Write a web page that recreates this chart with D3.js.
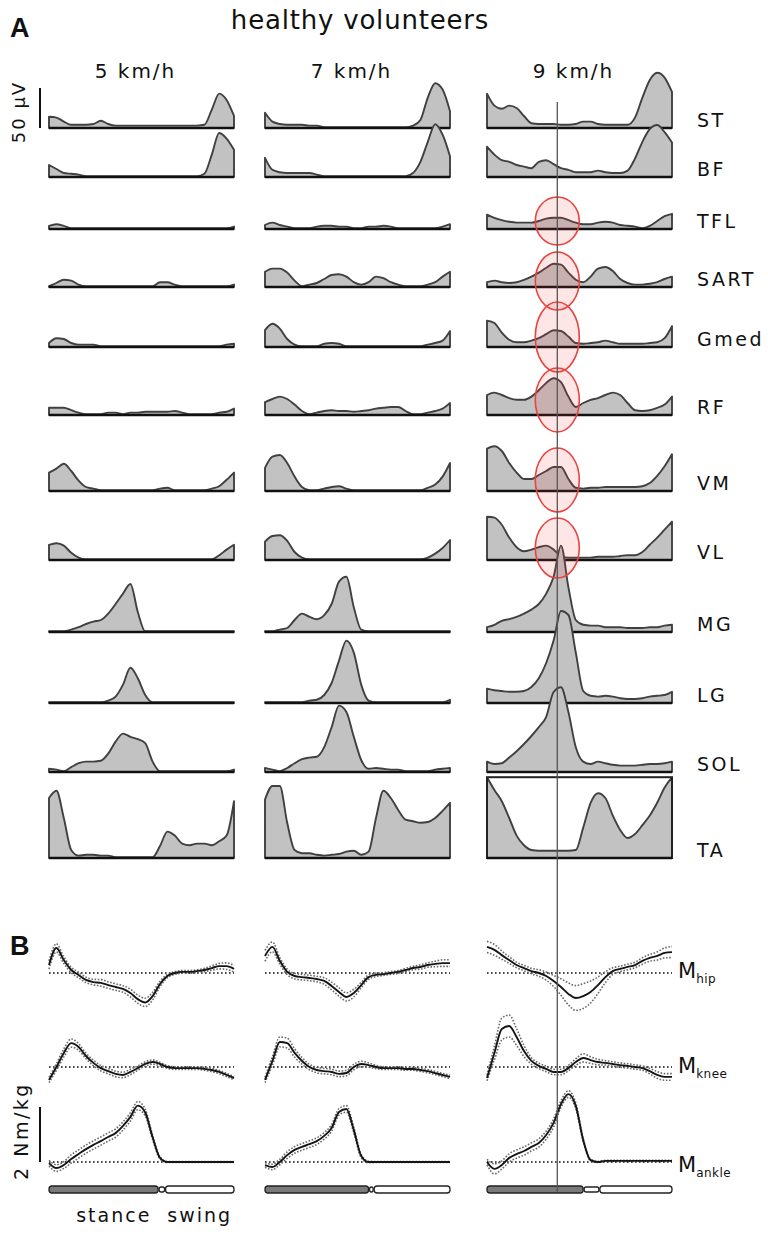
<!DOCTYPE html>
<html>
<head>
<meta charset="utf-8">
<script src="https://cdnjs.cloudflare.com/ajax/libs/d3/7.8.5/d3.min.js"></script>
<style>
    body { margin: 0; background: #fff; }
    svg text { font-family: "DejaVu Sans", Verdana, sans-serif; fill: #111; }
    .panel-letter { font-family: "Liberation Sans", Arial, sans-serif; font-weight: bold; font-size: 27px; }
    .emg-area { fill: #c2c2c2; stroke: #404040; stroke-width: 1.9px; stroke-linejoin: round; }
    .emg-base { stroke: #111; stroke-width: 2.6px; }
    .emg-frame { fill: none; stroke: #222; stroke-width: 2px; }
    .zero { stroke: #111; stroke-width: 1.6px; stroke-dasharray: 1.6,2.4; }
    .sd { fill: none; stroke: #6a6a6a; stroke-width: 1.6px; stroke-dasharray: 1.6,1.6; }
    .mean { fill: none; stroke: #151515; stroke-width: 1.9px; }
    .scalebar { stroke: #111; stroke-width: 2px; }
    .marker { stroke: #555; stroke-width: 1.3px; }
    .hl { fill: rgba(255, 60, 60, 0.13); stroke: #e8443f; stroke-width: 1.6px; }
    .phase { stroke: #222; stroke-width: 1.3px; }
</style>
</head>
<body>
<svg class="target" width="768" height="1236"></svg>
<script>

    // ---- data ----
    let speeds = ["5 km/h", "7 km/h", "9 km/h"];
    let muscles = ["ST", "BF", "TFL", "SART", "Gmed", "RF", "VM", "VL", "MG", "LG", "SOL", "TA"];
    let phase = d3.range(0, 101, 4);   // % of gait cycle

    // EMG envelopes in µV, one list per speed
    let ST = [
        [14,13,8,4,4,4,5,9,5,3,3,3,3,3,3,3,3,3,3,3,3,4,23,43,35,15],
        [19,8,5,4,4,4,3,3,1,1,1,1,1,1,1,1,1,1,1,1,3,10,38,56,48,21],
        [43,28,24,28,25,15,6,5,5,5,4,4,5,8,8,5,4,4,4,4,13,38,60,69,63,45]
    ];
    let BF = [
        [15,10,5,4,3,1,1,1,1,1,1,1,1,1,1,1,1,1,1,1,1,4,28,55,48,34],
        [24,9,6,5,5,5,5,3,1,1,1,1,1,1,1,1,1,1,1,1,5,19,44,66,53,26],
        [38,28,21,19,15,13,11,19,21,16,11,9,6,6,6,8,6,5,5,8,23,44,60,65,56,43]
    ];
    let TFL = [
        [4,6,4,1,1,1,1,1,1,1,1,1,1,1,1,1,1,1,1,1,1,1,1,1,1,3],
        [5,8,5,3,1,1,1,3,4,4,3,3,1,1,3,3,4,3,1,1,1,1,1,1,3,6],
        [18,14,11,9,8,8,8,10,13,14,14,11,8,6,6,8,9,8,5,4,3,1,4,10,16,19]
    ];
    let SART = [
        [1,5,9,8,3,1,1,1,1,1,1,1,1,1,1,6,6,3,1,1,1,1,1,1,1,3],
        [19,23,23,18,8,1,3,5,10,15,16,13,6,3,6,13,11,6,3,1,1,1,3,6,13,19],
        [6,8,6,5,6,9,13,18,24,29,28,18,9,6,13,23,25,20,10,5,3,3,4,6,10,13]
    ];
    let Gmed = [
        [5,11,10,5,3,3,3,1,1,1,1,1,1,1,1,1,1,1,1,1,1,1,1,1,3,4],
        [21,29,23,10,3,1,1,1,4,5,4,1,1,1,1,1,1,1,1,1,1,1,3,5,8,20],
        [33,30,18,9,6,6,8,11,16,21,20,13,5,4,5,6,8,6,4,4,4,4,5,6,11,26]
    ];
    let RF = [
        [9,9,9,6,3,1,1,1,3,3,1,3,3,4,4,4,4,5,3,1,1,1,1,3,4,8],
        [16,20,23,20,13,5,1,3,5,6,5,5,4,5,6,8,9,10,10,5,1,1,3,5,8,15],
        [25,28,25,21,19,19,23,31,40,46,41,23,10,15,19,21,25,28,25,15,6,5,6,9,13,23]
    ];
    let VM = [
        [23,28,34,25,13,5,3,1,1,1,1,1,1,1,1,3,4,1,1,1,1,1,3,6,14,23],
        [29,43,45,35,18,5,1,1,3,5,6,3,1,1,1,1,1,1,1,1,1,1,4,8,18,35],
        [53,56,50,35,23,15,15,20,25,30,30,15,4,3,4,4,5,5,5,5,5,6,10,19,31,46]
    ];
    let VL = [
        [19,21,18,9,3,1,1,1,1,1,1,1,1,1,1,1,1,1,1,1,1,1,1,6,13,19],
        [23,30,31,24,10,3,1,1,1,1,1,1,1,1,1,1,1,1,1,1,1,1,3,8,15,25],
        [54,53,44,28,16,11,13,16,18,13,5,3,3,3,3,4,4,4,5,6,6,10,19,28,38,48]
    ];
    let MG = [
        [1,1,1,3,6,10,13,15,23,35,48,60,25,1,1,1,1,1,1,1,1,1,1,1,1,1],
        [1,1,3,5,15,23,19,16,21,35,63,69,31,3,1,1,1,1,1,1,1,1,1,1,1,1],
        [6,9,14,16,19,23,28,35,48,69,108,56,15,9,8,8,6,6,6,5,5,5,6,6,8,9]
    ];
    let LG = [
        [1,1,1,1,1,1,1,1,3,8,23,44,31,10,1,1,1,1,1,1,1,1,1,1,1,1],
        [1,1,1,1,1,1,3,4,10,25,53,78,63,23,3,1,1,1,1,1,1,1,1,1,1,4],
        [18,16,15,14,14,15,20,31,50,78,115,110,63,15,9,8,9,8,6,5,5,6,8,9,10,14]
    ];
    let SOL = [
        [4,3,1,6,11,13,13,14,23,38,48,44,41,36,13,1,1,1,1,1,1,1,1,1,1,3],
        [5,3,1,5,11,16,18,19,31,56,83,75,44,15,4,5,4,3,3,1,1,1,1,3,4,5],
        [13,10,11,18,26,35,45,56,69,100,106,75,31,13,10,13,11,9,8,8,8,9,10,10,11,13]
    ];
    let TA = [
        [75,84,50,10,3,4,4,3,3,1,1,1,1,1,1,15,33,28,18,16,18,18,16,21,28,71],
        [73,90,90,44,10,6,6,4,3,4,5,8,9,4,8,50,84,75,60,48,46,44,45,50,59,69],
        [119,85,71,50,28,16,10,9,9,9,9,9,10,38,69,81,75,53,35,25,30,41,53,69,88,119]
    ];
    let emg = {ST, BF, TFL, SART, Gmed, RF, VM, VL, MG, LG, SOL, TA};

    // TA at 9 km/h runs off its panel (clipped at this value, µV)
    let clippedPanel = {muscle: "TA", speed: 2, limit: 101};

    // joint moments in Nm/kg: mean and SD per speed
    let hipMean = [
        [0.29,0.91,0.47,0.11,-0.07,-0.25,-0.33,-0.36,-0.44,-0.51,-0.58,-0.73,-0.95,-1.07,-0.84,-0.40,-0.11,0,0.04,0.04,0.07,0.11,0.18,0.25,0.25,0.15],
        [0.62,0.95,0.44,0.04,-0.11,-0.15,-0.18,-0.22,-0.29,-0.47,-0.69,-0.87,-0.73,-0.44,-0.15,-0.07,-0.04,0,0.04,0.11,0.18,0.22,0.29,0.33,0.36,0.36],
        [0.95,0.84,0.65,0.47,0.29,0.18,0.07,0,-0.11,-0.29,-0.51,-0.76,-0.91,-0.84,-0.69,-0.44,-0.15,0.07,0.15,0.22,0.29,0.44,0.55,0.62,0.73,0.76]
    ];
    let hipSD = [
        [0.15,0.15,0.12,0.1,0.1,0.1,0.1,0.12,0.12,0.12,0.12,0.14,0.15,0.15,0.14,0.1,0.06,0.05,0.05,0.05,0.05,0.06,0.08,0.1,0.12,0.12],
        [0.2,0.18,0.12,0.1,0.1,0.1,0.1,0.1,0.12,0.14,0.15,0.15,0.14,0.1,0.08,0.06,0.05,0.05,0.05,0.06,0.06,0.08,0.08,0.1,0.12,0.12],
        [0.2,0.2,0.15,0.12,0.1,0.1,0.1,0.12,0.15,0.2,0.3,0.4,0.45,0.45,0.4,0.3,0.2,0.12,0.1,0.1,0.1,0.12,0.12,0.15,0.18,0.2]
    ];
    let kneeMean = [
        [-0.47,0,0.51,0.87,0.73,0.40,0.15,-0.04,-0.15,-0.25,-0.29,-0.18,-0.04,0.11,0.18,0.11,0,-0.04,-0.04,-0.04,-0.04,-0.07,-0.11,-0.18,-0.29,-0.40],
        [-0.47,0.22,0.91,0.87,0.51,0.22,0,-0.11,-0.15,-0.18,-0.25,-0.22,0,0.11,0.07,0,-0.04,-0.04,-0.04,-0.07,-0.07,-0.11,-0.15,-0.22,-0.29,-0.36],
        [-0.40,0.51,1.38,1.49,1.09,0.58,0.22,0.04,-0.07,-0.18,-0.18,-0.04,0.18,0.33,0.25,0.18,0.15,0.11,0.07,0.04,0,-0.04,-0.15,-0.29,-0.36,-0.36]
    ];
    let kneeSD = [
        [0.1,0.12,0.15,0.15,0.12,0.1,0.1,0.1,0.1,0.1,0.1,0.1,0.08,0.08,0.08,0.06,0.05,0.05,0.05,0.05,0.05,0.05,0.06,0.06,0.06,0.06],
        [0.1,0.15,0.18,0.18,0.15,0.12,0.1,0.1,0.1,0.1,0.1,0.1,0.1,0.1,0.08,0.06,0.05,0.05,0.05,0.05,0.05,0.05,0.06,0.06,0.06,0.06],
        [0.1,0.25,0.4,0.4,0.3,0.2,0.12,0.1,0.1,0.1,0.1,0.1,0.12,0.15,0.12,0.1,0.08,0.08,0.08,0.08,0.08,0.08,0.1,0.12,0.12,0.12]
    ];
    let ankleMean = [
        [-0.04,-0.22,-0.11,0.11,0.29,0.47,0.62,0.76,0.91,1.05,1.31,1.64,2.05,1.80,0.90,0.15,0,0,0,0,0,0,0,0,0,0],
        [-0.11,-0.18,0,0.25,0.44,0.55,0.65,0.76,0.95,1.24,1.82,1.93,1.16,0.22,0,0,0,0,0,0,0,0,0,0,0,0],
        [0,-0.25,-0.11,0.15,0.29,0.40,0.55,0.69,0.98,1.42,2.11,2.47,2.04,0.80,0.07,0,0.04,0.04,0.04,0.04,0.04,0.04,0.04,0.04,0.04,0.04]
    ];
    let ankleSD = [
        [0.1,0.12,0.12,0.15,0.15,0.15,0.15,0.15,0.15,0.15,0.15,0.15,0.15,0.12,0.08,0.04,0.02,0.02,0.02,0.02,0.02,0.02,0.02,0.02,0.02,0.02],
        [0.08,0.1,0.1,0.12,0.12,0.12,0.12,0.12,0.12,0.12,0.12,0.12,0.1,0.06,0.03,0.02,0.02,0.02,0.02,0.02,0.02,0.02,0.02,0.02,0.02,0.02],
        [0.1,0.18,0.15,0.15,0.15,0.15,0.15,0.15,0.15,0.15,0.12,0.12,0.1,0.06,0.03,0.02,0.02,0.02,0.02,0.02,0.02,0.02,0.02,0.02,0.02,0.02]
    ];
    let joints = [
        {name: "hip", mean: hipMean, sd: hipSD},
        {name: "knee", mean: kneeMean, sd: kneeSD},
        {name: "ankle", mean: ankleMean, sd: ankleSD}
    ];

    // gait phases, % of cycle
    let stanceEnd = [59, 56, 52];
    let swingStart = [63, 59, 61];

    // highlighted instant and muscles at 9 km/h
    let markerPhase = 38;
    let highlighted = ["TFL", "SART", "Gmed", "RF", "VM", "VL"];

    // ---- layout ----
    let colX = [49, 265, 487], colW = 185;
    let rowBase = [128, 177, 229, 287, 347, 415, 491, 560, 632, 703, 772, 858];
    let jointZero = [973, 1067, 1162];
    let jointLabelDy = [5, 6, 10];
    let hlGeom = {TFL: [-8, 24], SART: [-6, 29], Gmed: [-10, 35], RF: [-15, 32], VM: [-11, 32], VL: [-12, 30]};
    let barY = 1186, barH = 7;

    let svg = d3.select(".target");

    let xs = colX.map(x0 => d3.scaleLinear().domain([0, 100]).range([x0, x0 + colW]));
    let emgScale = d3.scaleLinear().domain([0, 50]).range([0, 40]);     // 50 µV = 40 px
    let momScale = d3.scaleLinear().domain([0, 2]).range([0, 55]);      // 2 Nm/kg = 55 px

    // ---- texts ----
    svg.append("text").attr("class", "panel-letter").attr("x", 10).attr("y", 37).text("A");
    svg.append("text").attr("class", "panel-letter").attr("x", 10).attr("y", 955).text("B");
    svg.append("text").attr("x", 360).attr("y", 29).attr("text-anchor", "middle")
        .style("font-size", "26px").style("letter-spacing", "0.8px").text("healthy volunteers");

    speeds.forEach((s, i) => {
        svg.append("text").attr("x", xs[i](50) - 6).attr("y", 78).attr("text-anchor", "middle")
            .style("font-size", "20px").style("letter-spacing", "2px").text(s);
    });

    // ---- EMG panels ----
    let defs = svg.append("defs");
    let gEmg = svg.append("g").attr("class", "emg");

    muscles.forEach((m, r) => {
        let base = rowBase[r];
        speeds.forEach((s, c) => {
            let x = xs[c];
            let pts = phase.map((p, k) => ({p: p, v: emg[m][c][k]}));
            let isClipped = clippedPanel.muscle === m && clippedPanel.speed === c;
            let lim = isClipped ? clippedPanel.limit : Infinity;

            let area = d3.area()
                .x(d => x(d.p))
                .y0(base)
                .y1(d => base - emgScale(Math.min(d.v, lim)))
                .curve(d3.curveMonotoneX);

            let path = gEmg.append("path").attr("class", "emg-area").attr("d", area(pts));

            if (isClipped) {
                let id = "clip-" + m + c;
                defs.append("clipPath").attr("id", id).append("rect")
                    .attr("x", x(0)).attr("y", base - emgScale(lim))
                    .attr("width", colW).attr("height", emgScale(lim));
                path.attr("clip-path", "url(#" + id + ")");
                gEmg.append("rect").attr("class", "emg-frame")
                    .attr("x", x(0)).attr("y", base - emgScale(lim))
                    .attr("width", colW).attr("height", emgScale(lim));
            }

            gEmg.append("line").attr("class", "emg-base")
                .attr("x1", x(0)).attr("x2", x(100)).attr("y1", base).attr("y2", base);
        });

        svg.append("text").attr("x", 697).attr("y", base - 1)
            .style("font-size", "19px").style("letter-spacing", "2.5px").text(m);
    });

    // EMG scale bar
    svg.append("line").attr("class", "scalebar")
        .attr("x1", 40).attr("x2", 40).attr("y1", rowBase[0] - emgScale(50)).attr("y2", rowBase[0]);
    svg.append("text").attr("transform", "translate(25,112) rotate(-90)")
        .attr("text-anchor", "middle").style("font-size", "18px").style("letter-spacing", "2px").text("50 µV");

    // highlight ellipses at the marked instant (9 km/h)
    highlighted.forEach(m => {
        let r = muscles.indexOf(m);
        let g = hlGeom[m];
        svg.append("ellipse").attr("class", "hl")
            .attr("cx", xs[2](markerPhase)).attr("cy", rowBase[r] + g[0])
            .attr("rx", 22).attr("ry", g[1]);
    });

    // ---- joint moments ----
    let gMom = svg.append("g").attr("class", "moments");

    joints.forEach((j, r) => {
        let zero = jointZero[r];
        speeds.forEach((s, c) => {
            let x = xs[c];
            let line = d3.line()
                .x(d => x(d.p))
                .y(d => zero - momScale(d.v))
                .curve(d3.curveMonotoneX);
            let mean = phase.map((p, k) => ({p: p, v: j.mean[c][k]}));
            let hi = phase.map((p, k) => ({p: p, v: j.mean[c][k] + j.sd[c][k]}));
            let lo = phase.map((p, k) => ({p: p, v: j.mean[c][k] - j.sd[c][k]}));

            gMom.append("line").attr("class", "zero")
                .attr("x1", x(0)).attr("x2", x(100)).attr("y1", zero).attr("y2", zero);
            gMom.append("path").attr("class", "sd").attr("d", line(hi));
            gMom.append("path").attr("class", "sd").attr("d", line(lo));
            gMom.append("path").attr("class", "mean").attr("d", line(mean));
        });

        let t = svg.append("text").attr("x", 678).attr("y", zero + jointLabelDy[r]).style("font-size", "21px");
        t.append("tspan").text("M");
        t.append("tspan").attr("dy", 5).style("font-size", "12px").style("letter-spacing", "0.5px").text(j.name);
    });

    // moment scale bar
    svg.append("line").attr("class", "scalebar")
        .attr("x1", 40).attr("x2", 40).attr("y1", jointZero[2] - momScale(2)).attr("y2", jointZero[2]);
    svg.append("text").attr("transform", "translate(28,1131) rotate(-90)")
        .attr("text-anchor", "middle").style("font-size", "19px").style("letter-spacing", "2.5px").text("2 Nm/kg");

    // ---- stance / swing bars ----
    speeds.forEach((s, c) => {
        let x = xs[c];
        let g = svg.append("g");
        g.append("rect").attr("class", "phase").attr("fill", "#7a7a7a")
            .attr("x", x(0)).attr("y", barY).attr("width", x(stanceEnd[c]) - x(0)).attr("height", barH)
            .attr("rx", 3);
        g.append("rect").attr("class", "phase").attr("fill", "#fff")
            .attr("x", x(stanceEnd[c]) + 1).attr("y", barY + 1)
            .attr("width", x(swingStart[c]) - x(stanceEnd[c]) - 2).attr("height", barH - 2)
            .attr("rx", 2);
        g.append("rect").attr("class", "phase").attr("fill", "#fff")
            .attr("x", x(swingStart[c])).attr("y", barY).attr("width", x(100) - x(swingStart[c])).attr("height", barH)
            .attr("rx", 3);
    });
    svg.append("text").attr("x", xs[0](35)).attr("y", 1222).attr("text-anchor", "middle")
        .style("font-size", "19px").style("letter-spacing", "2px").text("stance");
    svg.append("text").attr("x", xs[0](81.5)).attr("y", 1222).attr("text-anchor", "middle")
        .style("font-size", "19px").style("letter-spacing", "2px").text("swing");

    // vertical marker through the 9 km/h column
    svg.append("line").attr("class", "marker")
        .attr("x1", xs[2](markerPhase)).attr("x2", xs[2](markerPhase))
        .attr("y1", 102).attr("y2", barY + barH - 1);

</script>
</body>
</html>
